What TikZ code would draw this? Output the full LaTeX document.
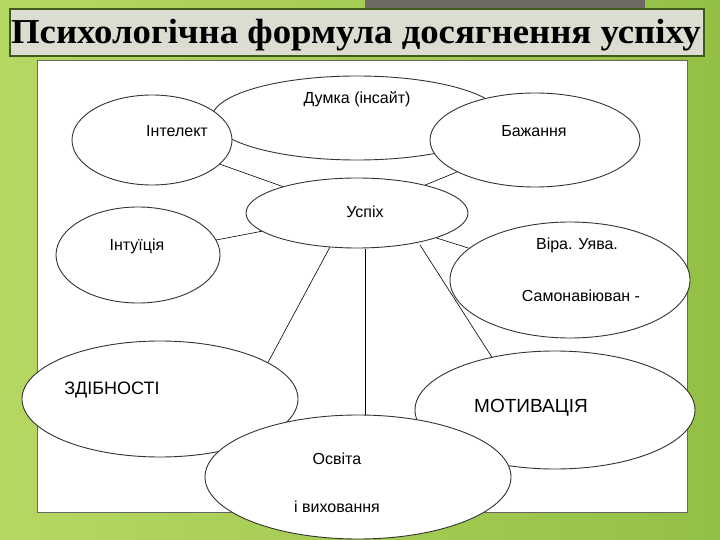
\documentclass[tikz,border=0pt]{standalone}
\usepackage{fontspec}
\usepackage{graphicx}
\setmainfont{Liberation Sans}
\newfontfamily\titlefont{Liberation Serif}
\usetikzlibrary{shapes.geometric}
\definecolor{bggreen}{HTML}{94BF45}
\definecolor{bglight}{HTML}{B5D862}
\definecolor{titlefill}{HTML}{DCDDD0}
\definecolor{titleborder}{HTML}{3F5A1C}
\definecolor{topgrey}{HTML}{6E6A63}
\tikzset{
  oval/.style={ellipse, draw=black!80, line width=0.9pt, fill=white, inner sep=0pt},
  lbl/.style={font=\fontsize{16}{18}\selectfont, inner sep=0pt},
  conn/.style={draw=black, line width=0.6pt}
}
\begin{document}
\begin{tikzpicture}[x=1pt,y=-1pt]
\useasboundingbox (0,0) rectangle (720,540);
\clip (0,0) rectangle (720,540);
\shade[left color=bglight, right color=bggreen] (0,0) rectangle (720,540);
\fill[topgrey] (365,0) rectangle (645,10);
\fill[white] (37,60) rectangle (687,512);
\draw[black!60, line width=0.6pt] (37,60) rectangle (687,512);
% ellipses (invisible first for names)
\node[ellipse, minimum width=290, minimum height=84, inner sep=0pt] (dumka) at (357,118) {};
\node[ellipse, minimum width=160, minimum height=90, inner sep=0pt] (intel) at (152,140) {};
\node[ellipse, minimum width=210, minimum height=94, inner sep=0pt] (bazh) at (535,140) {};
\node[ellipse, minimum width=222, minimum height=70, inner sep=0pt] (uspih) at (357,213) {};
\node[ellipse, minimum width=164, minimum height=96, inner sep=0pt] (intuic) at (138,255) {};
\node[ellipse, minimum width=240, minimum height=116, inner sep=0pt] (vira) at (570,280) {};
\node[ellipse, minimum width=276, minimum height=116, inner sep=0pt] (zdib) at (160,399) {};
\node[ellipse, minimum width=280, minimum height=118, inner sep=0pt] (motiv) at (555,410) {};
\node[ellipse, minimum width=306, minimum height=124, inner sep=0pt] (osvita) at (358,477) {};
% connectors
\draw[conn] (intel) -- (uspih);
\draw[conn] (bazh) -- (uspih);
\draw[conn] (intuic) -- (uspih);
\draw[conn] (vira) -- (uspih);
\draw[conn] (330,247) -- (265,368);
\draw[conn] (365,249) -- (365,432);
\draw[conn] (420,245) -- (495,362);
% visible ellipses in stacking order
\node[oval, minimum width=290, minimum height=84] at (dumka) {};
\node[oval, minimum width=160, minimum height=90] at (intel) {};
\node[oval, minimum width=210, minimum height=94] at (bazh) {};
\node[oval, minimum width=222, minimum height=70] at (uspih) {};
\node[oval, minimum width=164, minimum height=96] at (intuic) {};
\node[oval, minimum width=240, minimum height=116] at (vira) {};
\node[oval, minimum width=276, minimum height=116] at (zdib) {};
\node[oval, minimum width=280, minimum height=118] at (motiv) {};
\node[oval, minimum width=306, minimum height=124] at (osvita) {};
% labels
\node[lbl] (t1) at (357,99) {Думка (інсайт)};
\node[lbl] (t2) at (177,131) {Інтелект};
\node[lbl] (t3) at (534,131) {Бажання};
\node[lbl] (t4) at (365,212) {Успіх};
\node[lbl] (t5) at (137,246) {Інтуїція};
\node[lbl] (t6) at (577,245) {Віра. Уява.};
\node[lbl] (t7) at (581,296) {Самонавіюван -};
\node[lbl, font=\fontsize{18}{20}\selectfont] (t8) at (112,390) {ЗДІБНОСТІ};
\node[lbl, font=\fontsize{19}{21}\selectfont] (t9) at (531,408) {МОТИВАЦІЯ};
\node[lbl] (t10) at (337,459) {Освіта};
\node[lbl] (t11) at (337,507) {і виховання};
% title
\node[draw=titleborder, line width=2pt, fill=titlefill, minimum width=694, minimum height=47, inner sep=0pt] (title) at (357,33) {};
\node[inner sep=0pt, font=\titlefont\bfseries\fontsize{35}{38}\selectfont] (titletext) at (356,35) {\scalebox{1.05}[1]{Психологічна формула досягнення успіху}};
\end{tikzpicture}
\end{document}
